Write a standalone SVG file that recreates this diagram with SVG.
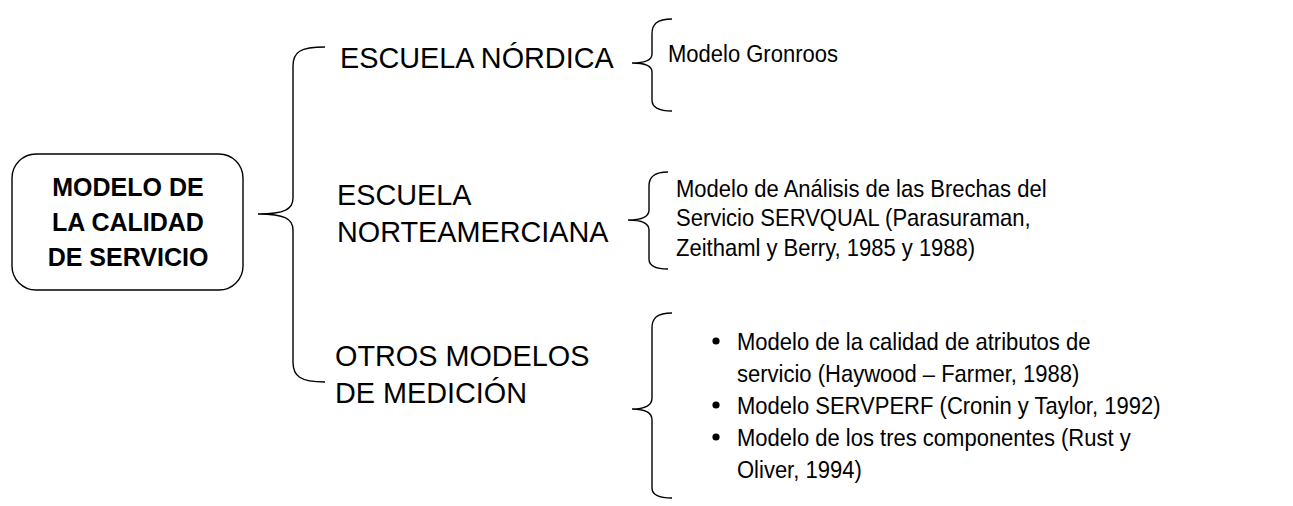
<svg xmlns="http://www.w3.org/2000/svg" width="1293" height="506" viewBox="0 0 1293 506">
<style>
.t{font-family:"Liberation Sans",Arial,sans-serif;fill:#000}
.m{font-size:28.8px}
.r{font-size:24px}
.b{font-size:25px;font-weight:bold;text-anchor:middle}
.br{fill:none;stroke:#000;stroke-width:1.4}
</style>
<rect width="1293" height="506" fill="#fff"/>
<g id="root">
<rect x="12" y="154" width="231" height="136" rx="24" fill="#fff" stroke="#000" stroke-width="1.4"/>
<text class="t b" x="128" y="196">MODELO DE</text>
<text class="t b" x="128" y="231">LA CALIDAD</text>
<text class="t b" x="128" y="266">DE SERVICIO</text>
</g>
<g id="connectors">
<path class="br" d="M325,47 C300,47 293,52 293,66 L293,198 C293,209 285,214 258,214 C285,214 293,219 293,230 L293,362 C293,376 300,382 325,382"/>
<path class="br" d="M672,19 C657,19 652,24 652,34 L652,54 C652,60 645,63 632,63 C645,63 652,66 652,72 L652,100 C652,107 657,111 672,111"/>
<path class="br" d="M668,172 C654,172 649,177 649,186 L649,210 C649,216 642,220 628,220 C642,220 649,224 649,230 L649,259 C649,265 654,269 668,269"/>
<path class="br" d="M672,313 C657,313 652,318 652,328 L652,398 C652,405 645,409 632,409 C645,409 652,413 652,420 L652,488 C652,494 657,498 672,498"/>
</g>
<g id="nordica">
<text class="t m" x="340" y="68">ESCUELA NÓRDICA</text>
</g>
<g id="norteamericana">
<text class="t m" x="337" y="205">ESCUELA</text>
<text class="t m" x="337" y="242">NORTEAMERCIANA</text>
</g>
<g id="otros">
<text class="t m" x="335" y="366">OTROS MODELOS</text>
<text class="t m" x="335" y="403">DE MEDICIÓN</text>
</g>
<g id="gronroos">
<text class="t r" transform="translate(668,62) scale(0.917,1)">Modelo Gronroos</text>
</g>
<g id="servqual">
<text class="t r" transform="translate(676,197) scale(0.917,1)">Modelo de Análisis de las Brechas del</text>
<text class="t r" transform="translate(676,226) scale(0.917,1)">Servicio SERVQUAL (Parasuraman,</text>
<text class="t r" transform="translate(676,256) scale(0.917,1)">Zeithaml y Berry, 1985 y 1988)</text>
</g>
<g id="otros-lista">
<circle cx="716" cy="341" r="3.6"/>
<text class="t r" transform="translate(737,350) scale(0.917,1)">Modelo de la calidad de atributos de</text>
<text class="t r" transform="translate(737,382) scale(0.917,1)">servicio (Haywood – Farmer, 1988)</text>
<circle cx="716" cy="405" r="3.6"/>
<text class="t r" transform="translate(737,414) scale(0.917,1)">Modelo SERVPERF (Cronin y Taylor, 1992)</text>
<circle cx="716" cy="437" r="3.6"/>
<text class="t r" transform="translate(737,446) scale(0.917,1)">Modelo de los tres componentes (Rust y</text>
<text class="t r" transform="translate(737,478) scale(0.917,1)">Oliver, 1994)</text>
</g>
</svg>
